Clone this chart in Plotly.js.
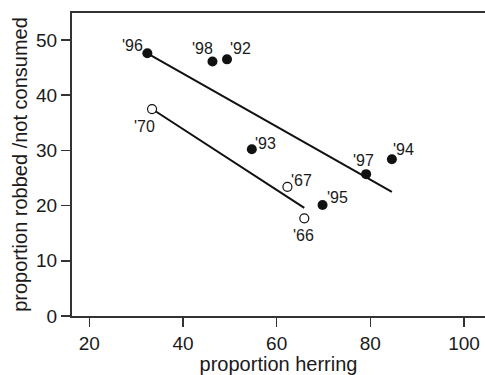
<!DOCTYPE html>
<html>
<head>
<meta charset="utf-8">
<script src="https://cdn.plot.ly/plotly-3.0.1.min.js"></script>
<style>
  html, body { margin: 0; padding: 0; background: #fff; }
  #chart { width: 485px; height: 375px; }
</style>
</head>
<body>
<div id="chart"></div>
<script>
// ---- data ----
const filledLabels = ["'96", "'98", "'92", "'93", "'97", "'94", "'95"];
const filledX = [32.4, 46.3, 49.4, 54.7, 79.1, 84.6, 69.8];
const filledY = [47.6, 46.1, 46.5, 30.2, 25.7, 28.4, 20.1];

const openLabels = ["'70", "'67", "'66"];
const openX = [33.4, 62.3, 65.9];
const openY = [37.5, 23.4, 17.7];

const fitFilledX = [32.4, 84.6];
const fitFilledY = [47.6, 22.5];
const fitOpenX = [33.4, 65.9];
const fitOpenY = [37.5, 19.6];

const xTicks = [20, 40, 60, 80, 100];
const yTicks = [0, 10, 20, 30, 40, 50];

// label offsets (pixels, dx right, dy down) for each point label
const filledShift = [[-15, -8], [-10, -13], [13, -10.5], [13.5, -6], [-2.5, -14], [12, -9.5], [14.5, -8]];
const openShift = [[-8, 17], [14.5, -6], [-0.5, 17]];

const FONT = 'Liberation Sans, Arial, Helvetica, sans-serif';
const INK = '#1a1a1a';

const traces = [
  { x: fitFilledX, y: fitFilledY, mode: 'lines', type: 'scatter',
    line: { color: '#111', width: 2 }, hoverinfo: 'skip', showlegend: false },
  { x: fitOpenX, y: fitOpenY, mode: 'lines', type: 'scatter',
    line: { color: '#111', width: 2 }, hoverinfo: 'skip', showlegend: false },
  { x: filledX, y: filledY, text: filledLabels, mode: 'markers', type: 'scatter',
    marker: { size: 10, color: '#111', line: { width: 0 } }, showlegend: false },
  { x: openX, y: openY, text: openLabels, mode: 'markers', type: 'scatter',
    marker: { size: 9, color: '#fff', line: { width: 1.2, color: '#111' } }, showlegend: false }
];

const annotations = [];
filledLabels.forEach((t, i) => annotations.push({
  x: filledX[i], y: filledY[i], text: t, showarrow: false,
  xanchor: 'center', yanchor: 'middle',
  xshift: filledShift[i][0], yshift: -filledShift[i][1],
  font: { family: FONT, size: 16, color: INK }
}));
openLabels.forEach((t, i) => annotations.push({
  x: openX[i], y: openY[i], text: t, showarrow: false,
  xanchor: 'center', yanchor: 'middle',
  xshift: openShift[i][0], yshift: -openShift[i][1],
  font: { family: FONT, size: 16, color: INK }
}));

const layout = {
  width: 485, height: 375,
  margin: { l: 72, r: 0, t: 13, b: 59 },
  paper_bgcolor: '#fff', plot_bgcolor: '#fff',
  font: { family: FONT, color: INK, size: 19 },
  showlegend: false,
  xaxis: {
    range: [16.31, 104.48], tickvals: xTicks, ticks: 'outside', ticklen: 9,
    tickwidth: 1.5, tickcolor: '#333', showline: true, linewidth: 2, linecolor: '#333',
    mirror: true, showgrid: false, zeroline: false,
    tickfont: { family: FONT, size: 19, color: INK },
    title: { text: 'proportion herring', font: { family: FONT, size: 20, color: INK }, standoff: 7 }
  },
  yaxis: {
    range: [0, 54.9], tickvals: yTicks, ticks: 'outside', ticklen: 9,
    tickwidth: 1.5, tickcolor: '#333', showline: true, linewidth: 2, linecolor: '#333',
    showgrid: false, zeroline: false,
    tickfont: { family: FONT, size: 19, color: INK },
    title: { text: 'proportion robbed /not consumed', font: { family: FONT, size: 20, color: INK }, standoff: 3 }
  },
  annotations: annotations
};

Plotly.newPlot('chart', traces, layout, { staticPlot: true, displayModeBar: false });
</script>
</body>
</html>
